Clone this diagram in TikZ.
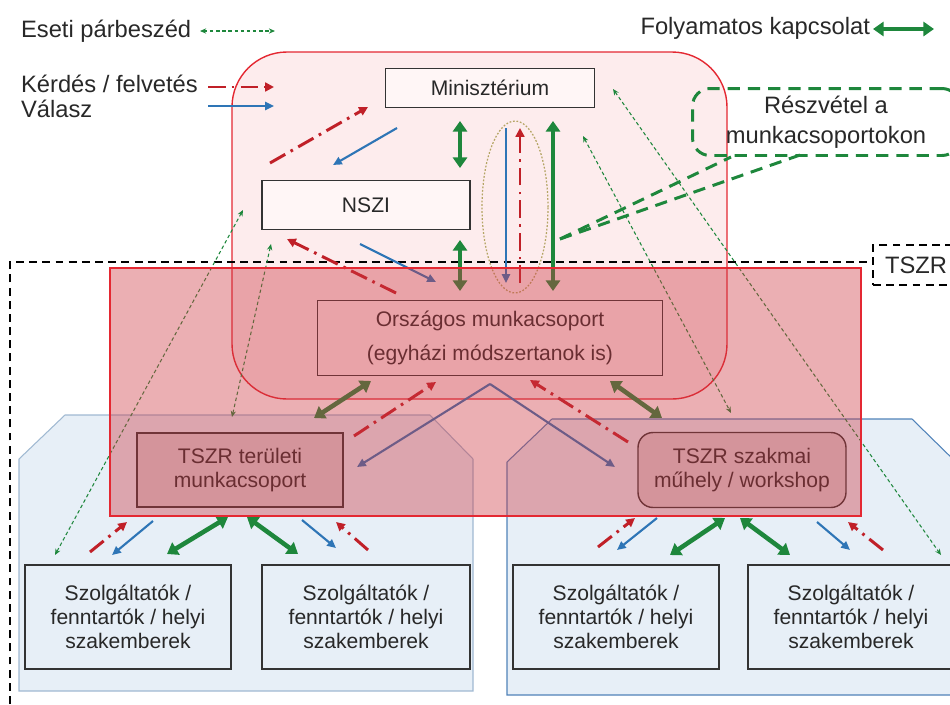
\documentclass[tikz,border=0pt]{standalone}
\usepackage{fontspec}
\setmainfont{Liberation Sans}
\usepackage{xcolor}
\usepackage{tikz}
\usetikzlibrary{positioning, arrows.meta, shapes}

\definecolor{piros}{RGB}{192,32,40}
\definecolor{kek}{RGB}{46,117,182}
\definecolor{zold}{RGB}{30,135,60}
\definecolor{halvany}{RGB}{253,236,237}
\definecolor{feher}{RGB}{255,246,246}
\definecolor{keret}{RGB}{228,40,50}
\definecolor{kekhat}{RGB}{231,239,247}
\definecolor{kekkeret}{RGB}{160,185,210}
\definecolor{kekkeret2}{RGB}{80,130,185}
\definecolor{szurkes}{RGB}{217,210,215}
\definecolor{szurke}{RGB}{40,40,40}
\definecolor{sav}{RGB}{205,55,65}
\definecolor{khaki}{RGB}{180,165,100}

\begin{document}
\begin{tikzpicture}[x=0.02cm, y=-0.02cm,
    doboz/.style={draw=black!80, fill=kekhat, line width=0.8pt, text=szurke, align=center, font=\fontsize{12}{13.5}\selectfont},
    felirat/.style={text=szurke, inner sep=1pt, font=\fontsize{13.5}{15}\selectfont},
    kerdes/.style={draw=piros, line width=1.7pt, dash pattern=on 10pt off 3.5pt on 1.5pt off 3.5pt, -{Triangle[length=5pt, width=5pt]}},
    valasz/.style={draw=kek, line width=1.2pt, -{Triangle[length=5pt, width=4.5pt]}},
    folyam/.style={draw=zold, line width=2.6pt, {Triangle[length=6pt, width=8pt]}-{Triangle[length=6pt, width=8pt]}},
    eseti/.style={draw=zold, line width=0.6pt, dash pattern=on 2pt off 1.5pt, {Stealth[length=3.5pt, width=3pt]}-{Stealth[length=3.5pt, width=3pt]}},
    reszvonal/.style={draw=zold, line width=1.7pt, dash pattern=on 7pt off 4.5pt}]
    \useasboundingbox (0,0) rectangle (950,704);
    \filldraw[fill=kekhat, draw=kekkeret, line width=0.6pt] (19,459) -- (65,415) -- (430,415) -- (473,459) -- (473,691) -- (19,691) -- cycle;
    \filldraw[fill=kekhat, draw=kekkeret2, line width=0.6pt] (507,462) -- (552,419) -- (912,419) -- (960,466) -- (960,695) -- (507,695) -- cycle;
    \filldraw[fill=halvany, draw=keret, line width=0.8pt, rounded corners=1.1cm] (232,52) rectangle (727,399);

    \node[felirat, anchor=west] (eseti) at (19,31) {Eseti párbeszéd};
    \node[felirat, anchor=west] (kerd) at (19,84) {Kérdés / felvetés};
    \node[felirat, anchor=west] (val) at (19,109) {Válasz};
    \node[felirat, anchor=east] (folyt) at (872,28) {Folyamatos kapcsolat};

    \node[felirat, draw=black, dash pattern=on 4.5pt off 3pt, line width=0.8pt, minimum width=1.72cm, minimum height=0.8cm] (tszr) at (916,265) {TSZR};
    \coordinate (tlent) at (10,704); \coordinate (tsarok) at (10,262);
    \draw[black, dash pattern=on 4.5pt off 3pt, line width=0.8pt] (tlent) -- (tsarok) -- (tsarok -| tszr.west);

    \node[felirat, draw=zold, dash pattern=on 7pt off 4.5pt, line width=1.7pt, rounded corners=0.35cm, align=center, minimum width=5.34cm, minimum height=1.34cm, font=\fontsize{13.5}{17}\selectfont] (resz) at (826,122) {Részvétel a\\munkacsoportokon};
    \coordinate (c0) at (560,239); \coordinate (c1) at (731,157);
    \coordinate (c2) at (800,155);
    \draw[reszvonal] (c0) -- (c1);
    \draw[reszvonal] (c0) -- (c2);

    \node[draw=khaki, ellipse, dash pattern=on 1pt off 1pt, line width=0.7pt, minimum width=1.32cm, minimum height=3.44cm] (kor) at (515,207) {};

    \node[doboz, fill=feher, minimum width=4.18cm, minimum height=0.78cm] (mini) at (490,88) {Minisztérium};
    \node[doboz, fill=feher, minimum width=4.16cm, minimum height=0.98cm] (nszi) at (366,205) {NSZI};
    \node[doboz, fill=none, minimum width=6.9cm, minimum height=1.5cm, font=\fontsize{12}{19}\selectfont] (orsz) at (490,338) {Országos munkacsoport\\(egyházi módszertanok is)};
    \node[doboz, fill=szurkes, minimum width=4.12cm, minimum height=1.48cm, font=\fontsize{12}{14}\selectfont] (terul) at (240,470) {TSZR területi\\munkacsoport};
    \node[doboz, fill=szurkes, rounded corners=0.3cm, minimum width=4.16cm, minimum height=1.5cm, font=\fontsize{12}{14}\selectfont] (muhely) at (742,470) {TSZR szakmai\\műhely / workshop};
    \node[doboz, minimum width=4.12cm, minimum height=2.08cm] (szolg1) at (128,617) {Szolgáltatók /\\fenntartók / helyi\\szakemberek};
    \node[doboz, minimum width=4.16cm, minimum height=2.08cm] (szolg2) at (366,617) {Szolgáltatók /\\fenntartók / helyi\\szakemberek};
    \node[doboz, minimum width=4.12cm, minimum height=2.08cm] (szolg3) at (616,617) {Szolgáltatók /\\fenntartók / helyi\\szakemberek};
    \node[doboz, minimum width=4.12cm, minimum height=2.08cm] (szolg4) at (851,617) {Szolgáltatók /\\fenntartók / helyi\\szakemberek};

    \coordinate (l1a) at (200,31); \coordinate (l1b) at (275,31);
    \coordinate (l2a) at (208,87); \coordinate (l2b) at (274,87);
    \coordinate (l3a) at (208,106); \coordinate (l3b) at (274,106);
    \coordinate (l4a) at (873,29); \coordinate (l4b) at (934,29);

    \coordinate (k1a) at (270,163); \coordinate (k1b) at (368,107);
    \coordinate (k2a) at (520,283); \coordinate (k2b) at (520,128);
    \coordinate (k3a) at (396,293); \coordinate (k3b) at (287,239);
    \coordinate (k4a) at (354,436); \coordinate (k4b) at (436,382);
    \coordinate (k5a) at (628,442); \coordinate (k5b) at (530,380);
    \coordinate (k6a) at (90,552); \coordinate (k6b) at (127,522);
    \coordinate (k7a) at (368,550); \coordinate (k7b) at (336,522);
    \coordinate (k8a) at (598,547); \coordinate (k8b) at (635,518);
    \coordinate (k9a) at (883,550); \coordinate (k9b) at (848,522);

    \coordinate (v1a) at (397,128); \coordinate (v1b) at (333,165);
    \coordinate (v2a) at (506,128); \coordinate (v2b) at (506,283);
    \coordinate (v3a) at (360,244); \coordinate (v3b) at (436,282);
    \coordinate (v4a) at (153,521); \coordinate (v4b) at (112,555);
    \coordinate (v5a) at (302,520); \coordinate (v5b) at (336,548);
    \coordinate (v6a) at (657,518); \coordinate (v6b) at (617,550);
    \coordinate (v7a) at (817,522); \coordinate (v7b) at (850,550);
    \coordinate (csucs) at (490,384);
    \coordinate (vbal) at (357,467); \coordinate (vjobb) at (615,467);

    \coordinate (g1a) at (460,121); \coordinate (g1b) at (460,168);
    \coordinate (g2a) at (460,240); \coordinate (g2b) at (460,291);
    \coordinate (g3a) at (553,121); \coordinate (g3b) at (553,291);
    \coordinate (g4a) at (314,418); \coordinate (g4b) at (371,381);
    \coordinate (g5a) at (610,381); \coordinate (g5b) at (662,418);
    \coordinate (g6a) at (167,554); \coordinate (g6b) at (228,517);
    \coordinate (g7a) at (247,517); \coordinate (g7b) at (298,554);
    \coordinate (g8a) at (670,555); \coordinate (g8b) at (725,518);
    \coordinate (g9a) at (740,518); \coordinate (g9b) at (790,555);

    \coordinate (e1a) at (243,210); \coordinate (e1b) at (55,555);
    \coordinate (e2a) at (271,244); \coordinate (e2b) at (232,417);
    \coordinate (e3a) at (613,89); \coordinate (e3b) at (941,555);
    \coordinate (e4a) at (583,136); \coordinate (e4b) at (731,413);

    \foreach \a/\b in {l1a/l1b, e1a/e1b, e2a/e2b, e3a/e3b, e4a/e4b} \draw[eseti] (\a) -- (\b);
    \foreach \a/\b in {l2a/l2b, k1a/k1b, k2a/k2b, k3a/k3b, k4a/k4b, k5a/k5b, k6a/k6b, k7a/k7b, k8a/k8b, k9a/k9b} \draw[kerdes] (\a) -- (\b);
    \foreach \a/\b in {l3a/l3b, v1a/v1b, v2a/v2b, v3a/v3b, v4a/v4b, v5a/v5b, v6a/v6b, v7a/v7b, csucs/vbal, csucs/vjobb} \draw[valasz] (\a) -- (\b);
    \foreach \a/\b in {l4a/l4b, g1a/g1b, g2a/g2b, g3a/g3b, g4a/g4b, g5a/g5b, g6a/g6b, g7a/g7b, g8a/g8b, g9a/g9b} \draw[folyam] (\a) -- (\b);

    \filldraw[fill=sav, fill opacity=0.4, draw=keret, line width=0.8pt] (110,268) rectangle (861,516);
\end{tikzpicture}
\end{document}
